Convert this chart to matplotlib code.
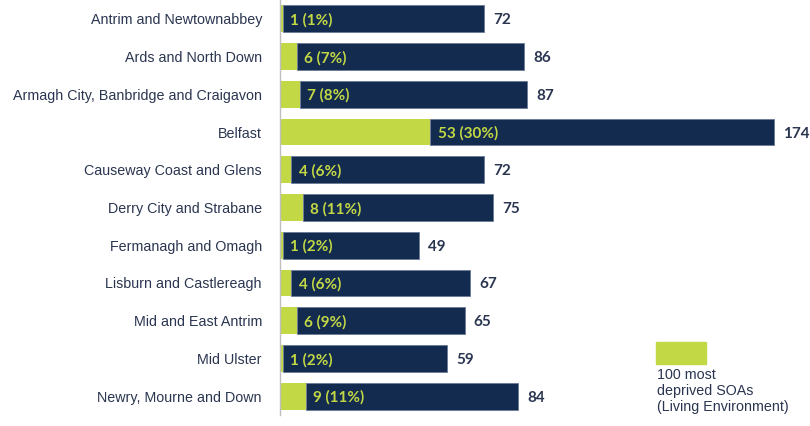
import matplotlib.pyplot as plt
from matplotlib.patches import Rectangle

councils = [
    "Antrim and Newtownabbey",
    "Ards and North Down",
    "Armagh City, Banbridge and Craigavon",
    "Belfast",
    "Causeway Coast and Glens",
    "Derry City and Strabane",
    "Fermanagh and Omagh",
    "Lisburn and Castlereagh",
    "Mid and East Antrim",
    "Mid Ulster",
    "Newry, Mourne and Down",
]
totals = [72, 86, 87, 174, 72, 75, 49, 67, 65, 59, 84]
deprived = [1, 6, 7, 53, 4, 8, 1, 4, 6, 1, 9]
deprived_pct = [1, 7, 8, 30, 6, 11, 2, 6, 9, 2, 11]

navy = "#142B50"
green = "#C2D844"
text_col = "#2A3550"

fig = plt.figure(figsize=(8.1, 4.26), dpi=100)
ax = fig.add_axes([280 / 810, 11 / 426, 530 / 810, 415 / 426])

y = list(range(len(councils)))
rest = [t - d for t, d in zip(totals, deprived)]
ax.barh(y, deprived, height=0.71, color=green, edgecolor="none")
ax.barh(y, rest, left=deprived, height=0.71, color=navy, edgecolor="#6B7A96", linewidth=0.6)

for yi, t, d, p in zip(y, totals, deprived, deprived_pct):
    ax.text(d + 2.6, yi + 0.04, f"{d} ({p}%)", color=green, fontsize=11, fontweight="bold",
            family="Lato", va="center", ha="left")
    ax.text(t + 3.2, yi + 0.04, str(t), color=text_col, fontsize=11, fontweight="bold",
            family="Lato", va="center", ha="left")

ax.set_xlim(0, 186.7)
ax.set_ylim(len(councils) - 0.5, -0.5)
ax.set_yticks(y)
ax.set_yticklabels(councils, fontsize=10.3, color=text_col, family="Liberation Sans")
ax.tick_params(axis="y", length=0, pad=13)
ax.set_xticks([])
for side in ["top", "right", "bottom"]:
    ax.spines[side].set_visible(False)
ax.spines["left"].set_color("#BFBFBF")
ax.spines["left"].set_linewidth(1.0)

# legend block
fig.patches.append(Rectangle((656 / 810, 1 - 364 / 426), 50 / 810, 22 / 426,
                             transform=fig.transFigure, color=green, zorder=5))
fig.text(657 / 810, 1 - 368 / 426, "100 most\ndeprived SOAs\n(Living Environment)",
         fontsize=10.3, color=text_col, family="Liberation Sans", va="top", ha="left",
         linespacing=1.2)

fig.savefig("out.png", dpi=100)
plt.close(fig)
